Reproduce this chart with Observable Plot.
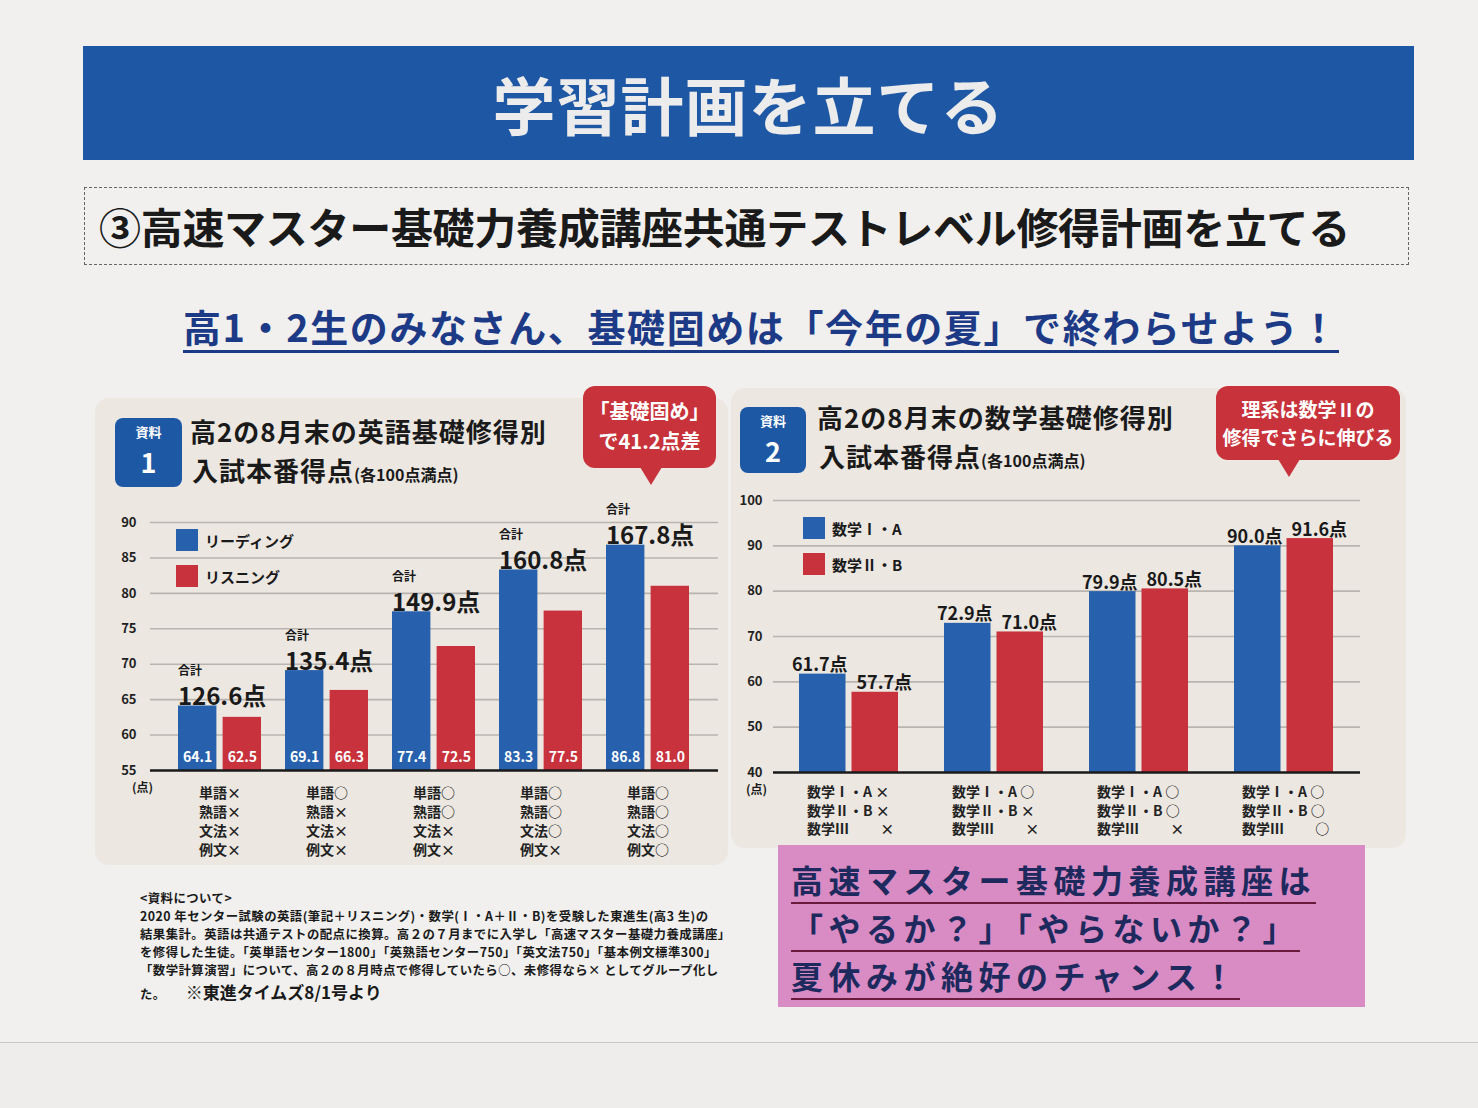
<!DOCTYPE html>
<html lang="ja"><head><meta charset="utf-8">
<script src="https://cdn.jsdelivr.net/npm/d3@7"></script>
<script src="https://cdn.jsdelivr.net/npm/@observablehq/plot@0.6"></script>
<style>
body{margin:0;width:1478px;height:1108px;background:#f1f0ee;position:relative;overflow:hidden;font-family:"Noto Sans CJK JP","Noto Sans",sans-serif;color:#1a1a1a;}
.abs{position:absolute;}
#banner{left:83px;top:46px;width:1331px;height:114px;background:#1e57a4;color:#ececec;font-size:63px;font-weight:700;text-align:center;line-height:114px;letter-spacing:1px;}
#sub{left:84px;top:187px;width:1325px;height:78px;border:1.5px dashed #666;box-sizing:border-box;font-size:42px;font-weight:700;line-height:76px;padding-left:14px;white-space:nowrap;letter-spacing:-0.3px;}
#lead{left:183px;top:302px;font-size:38px;font-weight:700;color:#1d3a86;white-space:nowrap;border-bottom:3px solid #1d3a86;line-height:48px;letter-spacing:1.6px;}
.panel{background:#ece7e1;border-radius:14px;}
.badge{background:#1d58a5;color:#fff;border-radius:8px;text-align:center;font-weight:700;}
.badge .s{font-size:13px;line-height:15px;height:15px;padding-top:6px;}
.badge .n{font-size:27px;line-height:39px;height:39px;margin-top:3px;}
.ttl{font-size:26px;font-weight:700;line-height:38px;height:38px;white-space:nowrap;letter-spacing:1px;}
.ttl small{font-size:16px;letter-spacing:0;}
.call{background:#c8323b;color:#fff;border-radius:12px;text-align:center;font-weight:700;}
.tri{width:0;height:0;border-left:11px solid transparent;border-right:11px solid transparent;border-top:18px solid #c8323b;}
.leg{font-size:15px;font-weight:700;white-space:nowrap;display:flex;align-items:center;gap:7px;height:26px;}
.sw{width:22px;height:22px;display:inline-block;}
.unit{font-size:12px;font-weight:700;}
#note{left:140px;top:889px;font-size:12.4px;font-weight:700;white-space:nowrap;letter-spacing:0.45px;}
#note div{height:18px;line-height:18px;}
#note .big{font-size:17px;margin-left:20px;letter-spacing:0;}
#pink{left:778px;top:845px;width:587px;height:162px;background:#d98cc4;padding-top:11px;box-sizing:border-box;}
#pink div{font-size:32px;font-weight:700;color:#1e2a5e;white-space:nowrap;line-height:46px;height:46px;width:fit-content;border-bottom:2.5px solid #6a1a3a;margin-left:13px;margin-bottom:0px;letter-spacing:5.5px;}
</style></head>
<body>
<div class="abs" style="left:0;top:1042px;width:1478px;height:66px;background:#eeedeb;border-top:1.5px solid #c9c7c4;"></div>
<div class="abs" id="banner">学習計画を立てる</div>
<div class="abs" id="sub">③高速マスター基礎力養成講座共通テストレベル修得計画を立てる</div>
<div class="abs" id="lead">高1・2生のみなさん、基礎固めは「今年の夏」で終わらせよう！</div>

<div class="abs panel" style="left:95px;top:398px;width:633px;height:467px;"></div>
<div class="abs panel" style="left:731px;top:388px;width:675px;height:460px;"></div>

<div class="abs badge" style="left:115px;top:418px;width:67px;height:69px;"><div class="s">資料</div><div class="n">1</div></div>
<div class="abs ttl" style="left:190px;top:412px;">高2の8月末の英語基礎修得別</div>
<div class="abs ttl" style="left:192px;top:451px;">入試本番得点<small>(各100点満点)</small></div>

<div class="abs badge" style="left:740px;top:407px;width:66px;height:66px;"><div class="s">資料</div><div class="n">2</div></div>
<div class="abs ttl" style="left:817px;top:398px;">高2の8月末の数学基礎修得別</div>
<div class="abs ttl" style="left:819px;top:437px;">入試本番得点<small>(各100点満点)</small></div>

<div id="engChart" class="abs" style="left:100px;top:500px;"></div>
<div id="mathChart" class="abs" style="left:730px;top:480px;"></div>

<div class="abs call" style="left:583px;top:386px;width:133px;height:82px;font-size:20px;line-height:30px;padding-top:10px;box-sizing:border-box;">「基礎固め」<br>で41.2点差</div>
<div class="abs tri" style="left:640px;top:467px;"></div>
<div class="abs call" style="left:1216px;top:386px;width:184px;height:74px;font-size:19px;line-height:28px;padding-top:9px;box-sizing:border-box;">理系は数学Ⅱの<br>修得でさらに伸びる</div>
<div class="abs tri" style="left:1278px;top:459px;"></div>

<div class="abs leg" style="left:176px;top:527px;"><span class="sw" style="background:#2761ad"></span>リーディング</div>
<div class="abs leg" style="left:176px;top:563px;"><span class="sw" style="background:#c8323d"></span>リスニング</div>
<div class="abs leg" style="left:803px;top:515px;"><span class="sw" style="background:#2761ad"></span>数学Ⅰ・A</div>
<div class="abs leg" style="left:803px;top:551px;"><span class="sw" style="background:#c8323d"></span>数学Ⅱ・B</div>
<div class="abs unit" style="left:132px;top:778px;">(点)</div>
<div class="abs unit" style="left:746px;top:780px;">(点)</div>

<div class="abs" id="note">
<div>&lt;資料について&gt;</div>
<div>2020 年センター試験の英語(筆記＋リスニング)・数学(Ⅰ・A＋Ⅱ・B)を受験した東進生(高3 生)の</div>
<div>結果集計。英語は共通テストの配点に換算。高２の７月までに入学し「高速マスター基礎力養成講座」</div>
<div>を修得した生徒。「英単語センター1800」「英熟語センター750」「英文法750」「基本例文標準300」</div>
<div>「数学計算演習」について、高２の８月時点で修得していたら○、未修得なら× としてグループ化し</div>
<div style="height:25px;line-height:25px;">た。<span class="big">※東進タイムズ8/1号より</span></div>
</div>

<div class="abs" id="pink"><div>高速マスター基礎力養成講座は</div><div>「やるか？」「やらないか？」</div><div>夏休みが絶好のチャンス！</div></div>

<script>
// ---- data ----
const engCategories = [
  "単語×\n熟語×\n文法×\n例文×",
  "単語○\n熟語×\n文法×\n例文×",
  "単語○\n熟語○\n文法×\n例文×",
  "単語○\n熟語○\n文法○\n例文×",
  "単語○\n熟語○\n文法○\n例文○"
];
const engReading   = [64.1, 69.1, 77.4, 83.3, 86.8];
const engListening = [62.5, 66.3, 72.5, 77.5, 81.0];
const engTotal     = [126.6, 135.4, 149.9, 160.8, 167.8];
const engTicks     = [55, 60, 65, 70, 75, 80, 85, 90];

const mathCategories = [
  "数学Ⅰ・A ×\n数学Ⅱ・B ×\n数学Ⅲ　　 ×",
  "数学Ⅰ・A ○\n数学Ⅱ・B ×\n数学Ⅲ　　 ×",
  "数学Ⅰ・A ○\n数学Ⅱ・B ○\n数学Ⅲ　　 ×",
  "数学Ⅰ・A ○\n数学Ⅱ・B ○\n数学Ⅲ　　 ○"
];
const mathIA    = [61.7, 72.9, 79.9, 90.0];
const mathIIB   = [57.7, 71.0, 80.5, 91.6];
const mathTicks = [40, 50, 60, 70, 80, 90, 100];

const BLUE = "#2761ad", RED = "#c8323d", GRID = "#b8b4af";
const FONT = "'Noto Sans CJK JP', sans-serif";

// ---- English chart ----
{
  const data = engCategories.map((c, i) => ({cat: c, reading: engReading[i], listening: engListening[i], total: engTotal[i]}));
  const W = 625, H = 370, ML = 50, MR = 7, MT = 22, MB = 100;
  const pi = 0.22, po = 0.24, gap = 5;
  const step = (W - ML - MR) / (engCategories.length - pi + 2 * po);
  const half = step * (1 - pi) / 2;
  const off = half / 2 + gap / 4;
  const chart = Plot.plot({
    width: W, height: H, marginLeft: ML, marginRight: MR, marginTop: MT, marginBottom: MB,
    style: {background: "transparent", fontFamily: FONT, overflow: "visible"},
    x: {domain: engCategories, paddingInner: pi, paddingOuter: po, label: null},
    y: {domain: [55, 90], label: null},
    marks: [
      Plot.ruleY(engTicks.slice(1), {stroke: GRID, strokeWidth: 1.6}),
      Plot.axisY({ticks: engTicks, tickSize: 0, tickPadding: 14, fontSize: 13, fontWeight: "bold", label: null, fill: "#222"}),
      Plot.axisX({tickSize: 0, tickPadding: 14, fontSize: 14, fontWeight: "bold", lineHeight: 1.35, label: null, fill: "#222"}),
      Plot.barY(data, {x: "cat", y1: 55, y2: "reading", fill: BLUE, insetRight: half + gap / 2}),
      Plot.barY(data, {x: "cat", y1: 55, y2: "listening", fill: RED, insetLeft: half + gap / 2}),
      Plot.ruleY([55], {stroke: "#1a1a1a", strokeWidth: 2.5}),
      Plot.text(data, {x: "cat", y: 55, text: d => d.reading.toFixed(1), dx: -off, dy: -13, fill: "#fff", fontSize: 14, fontWeight: "bold"}),
      Plot.text(data, {x: "cat", y: 55, text: d => d.listening.toFixed(1), dx: off, dy: -13, fill: "#fff", fontSize: 14, fontWeight: "bold"}),
      Plot.text(data, {x: "cat", y: "reading", text: d => d.total.toFixed(1) + "点", dx: -half, dy: -1, textAnchor: "start", lineAnchor: "bottom", fontSize: 24, fontWeight: 600, fill: "#1a1a1a", letterSpacing: "-0.5px"}),
      Plot.text(data, {x: "cat", y: "reading", text: () => "合計", dx: -half, dy: -31, textAnchor: "start", lineAnchor: "bottom", fontSize: 12, fontWeight: "bold", fill: "#1a1a1a"})
    ]
  });
  document.getElementById("engChart").append(chart);
}

// ---- Math chart ----
{
  const data = mathCategories.map((c, i) => ({cat: c, ia: mathIA[i], iib: mathIIB[i]}));
  const W = 650, H = 370, ML = 43, MR = 20, MT = 20, MB = 78;
  const pi = 0.315, po = 0.168, gap = 5;
  const step = (W - ML - MR) / (mathCategories.length - pi + 2 * po);
  const half = step * (1 - pi) / 2;
  const off = half / 2 + gap / 4;
  const chart = Plot.plot({
    width: W, height: H, marginLeft: ML, marginRight: MR, marginTop: MT, marginBottom: MB,
    style: {background: "transparent", fontFamily: FONT, overflow: "visible"},
    x: {domain: mathCategories, paddingInner: pi, paddingOuter: po, label: null},
    y: {domain: [40, 100], label: null},
    marks: [
      Plot.ruleY(mathTicks.slice(1), {stroke: GRID, strokeWidth: 1.6}),
      Plot.axisY({ticks: mathTicks, tickSize: 0, tickPadding: 11, fontSize: 13, fontWeight: "bold", label: null, fill: "#222"}),
      Plot.axisX({tickSize: 0, tickPadding: 12, fontSize: 14, fontWeight: "bold", lineHeight: 1.3, textAnchor: "start", dx: -42, label: null, fill: "#222"}),
      Plot.barY(data, {x: "cat", y1: 40, y2: "ia", fill: BLUE, insetRight: half + gap / 2}),
      Plot.barY(data, {x: "cat", y1: 40, y2: "iib", fill: RED, insetLeft: half + gap / 2}),
      Plot.ruleY([40], {stroke: "#1a1a1a", strokeWidth: 2.5}),
      Plot.text(data, {x: "cat", y: "ia", text: d => d.ia.toFixed(1) + "点", dx: -off - 3, dy: -3, lineAnchor: "bottom", fontSize: 18, fontWeight: 600, fill: "#1a1a1a", letterSpacing: "-0.8px"}),
      Plot.text(data, {x: "cat", y: "iib", text: d => d.iib.toFixed(1) + "点", dx: off + 9, dy: -3, lineAnchor: "bottom", fontSize: 18, fontWeight: 600, fill: "#1a1a1a", letterSpacing: "-0.8px"})
    ]
  });
  document.getElementById("mathChart").append(chart);
}
</script>
</body></html>
